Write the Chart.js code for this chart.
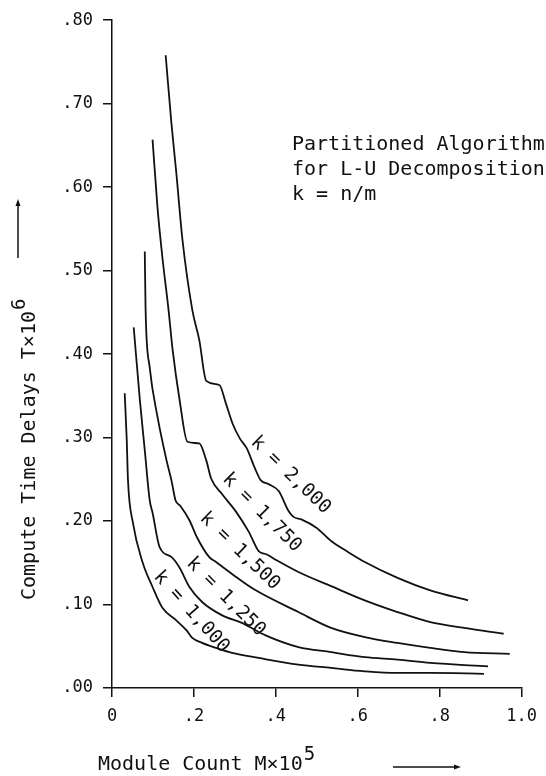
<!DOCTYPE html>
<html>
<head>
<meta charset="utf-8">
<script src="https://cdn.jsdelivr.net/npm/chart.js@4/dist/chart.umd.min.js"></script>
<style>
  html, body { margin: 0; padding: 0; background: #fff; }
  canvas { display: block; }
</style>
</head>
<body>
<canvas id="delayChart" width="546" height="776"></canvas>
<script>
// tick labels
const xTickLabels = ["0", ".2", ".4", ".6", ".8", "1.0"];
const yTickLabels = [".00", ".10", ".20", ".30", ".40", ".50", ".60", ".70", ".80"];

// module count M x 10^5 / compute time delay T x 10^6
const k2000X = [0.131, 0.145, 0.157, 0.172, 0.196, 0.213, 0.230, 0.262, 0.278, 0.295, 0.312, 0.329, 0.349, 0.363, 0.383, 0.407, 0.431, 0.443, 0.462, 0.499, 0.535, 0.576, 0.617, 0.697, 0.777, 0.869];
const k2000Y = [0.758, 0.677, 0.617, 0.537, 0.453, 0.417, 0.368, 0.363, 0.341, 0.316, 0.299, 0.287, 0.263, 0.249, 0.244, 0.236, 0.212, 0.205, 0.202, 0.192, 0.176, 0.163, 0.151, 0.132, 0.117, 0.105];

const k1750X = [0.099, 0.111, 0.123, 0.138, 0.148, 0.165, 0.184, 0.213, 0.230, 0.242, 0.269, 0.303, 0.334, 0.358, 0.378, 0.402, 0.455, 0.535, 0.617, 0.697, 0.777, 0.860, 0.956];
const k1750Y = [0.657, 0.576, 0.516, 0.453, 0.405, 0.345, 0.295, 0.293, 0.273, 0.251, 0.232, 0.211, 0.187, 0.164, 0.160, 0.153, 0.139, 0.122, 0.105, 0.091, 0.079, 0.072, 0.065];

const k1500X = [0.080, 0.082, 0.092, 0.111, 0.133, 0.145, 0.155, 0.167, 0.189, 0.208, 0.237, 0.254, 0.303, 0.351, 0.455, 0.535, 0.617, 0.697, 0.777, 0.860, 0.971];
const k1500Y = [0.523, 0.453, 0.384, 0.325, 0.273, 0.249, 0.225, 0.218, 0.201, 0.180, 0.157, 0.151, 0.133, 0.117, 0.091, 0.072, 0.061, 0.054, 0.048, 0.043, 0.041];

const k1250X = [0.053, 0.068, 0.080, 0.092, 0.099, 0.116, 0.145, 0.165, 0.189, 0.220, 0.269, 0.317, 0.375, 0.455, 0.535, 0.617, 0.697, 0.777, 0.918];
const k1250Y = [0.432, 0.345, 0.285, 0.225, 0.210, 0.169, 0.157, 0.144, 0.121, 0.103, 0.087, 0.078, 0.063, 0.049, 0.043, 0.037, 0.034, 0.030, 0.026];

const k1000X = [0.031, 0.036, 0.039, 0.051, 0.075, 0.099, 0.123, 0.157, 0.182, 0.196, 0.220, 0.254, 0.293, 0.358, 0.455, 0.535, 0.617, 0.697, 0.777, 0.908];
const k1000Y = [0.353, 0.297, 0.249, 0.198, 0.150, 0.121, 0.096, 0.081, 0.069, 0.060, 0.054, 0.048, 0.042, 0.036, 0.028, 0.024, 0.020, 0.018, 0.018, 0.017];

// curve labels, placed in data units along each curve
const curveLabels = [
    { text: "k = 2,000", x: 0.436, y: 0.255, angle: 44 },
    { text: "k = 1,750", x: 0.366, y: 0.210, angle: 45 },
    { text: "k = 1,500", x: 0.312, y: 0.164, angle: 44 },
    { text: "k = 1,250", x: 0.278, y: 0.109, angle: 45 },
    { text: "k = 1,000", x: 0.194, y: 0.091, angle: 48 }
];

const noteLines = ["Partitioned Algorithm", "for L-U Decomposition", "k = n/m"];

const FONT = "'DejaVu Sans Mono', monospace";
const INK = "#111";

function toPoints(xs, ys) {
    return xs.map((x, i) => ({ x: x, y: ys[i] }));
}

function curve(xs, ys) {
    return {
        data: toPoints(xs, ys),
        borderColor: INK,
        borderWidth: 1.8,
        pointRadius: 0,
        fill: false,
        cubicInterpolationMode: "monotone"
    };
}

// draws titles, arrows, note and curve labels
const textPlugin = {
    id: "textPlugin",
    afterDraw(chart) {
        const ctx = chart.ctx;
        const xs = chart.scales.x;
        const ys = chart.scales.y;
        ctx.save();
        ctx.fillStyle = INK;
        ctx.strokeStyle = INK;
        ctx.textBaseline = "alphabetic";

        // y title (rotated)
        ctx.save();
        ctx.translate(35, 600);
        ctx.rotate(-Math.PI / 2);
        ctx.font = "20px " + FONT;
        ctx.textAlign = "left";
        const yTitle = "Compute Time Delays T×10";
        ctx.fillText(yTitle, 0, 0);
        const w1 = ctx.measureText(yTitle).width;
        ctx.font = "19px " + FONT;
        ctx.fillText("6", w1 + 1, -10);
        ctx.restore();

        // x title
        ctx.font = "20px " + FONT;
        ctx.textAlign = "left";
        const xTitle = "Module Count M×10";
        ctx.fillText(xTitle, 98, 770);
        const w2 = ctx.measureText(xTitle).width;
        ctx.font = "19px " + FONT;
        ctx.fillText("5", 98 + w2 + 1, 760);

        // arrows
        ctx.lineWidth = 1.5;
        ctx.beginPath();
        ctx.moveTo(18, 258);
        ctx.lineTo(18, 203);
        ctx.stroke();
        ctx.beginPath();
        ctx.moveTo(18, 199);
        ctx.lineTo(15.5, 206);
        ctx.lineTo(20.5, 206);
        ctx.closePath();
        ctx.fill();

        ctx.beginPath();
        ctx.moveTo(393, 767);
        ctx.lineTo(456, 767);
        ctx.stroke();
        ctx.beginPath();
        ctx.moveTo(461, 767);
        ctx.lineTo(454, 764.5);
        ctx.lineTo(454, 769.5);
        ctx.closePath();
        ctx.fill();

        // note
        ctx.font = "20px " + FONT;
        noteLines.forEach((line, i) => {
            ctx.fillText(line, 292, 150 + i * 25);
        });

        // curve labels
        ctx.font = "19px " + FONT;
        ctx.textAlign = "center";
        ctx.textBaseline = "middle";
        curveLabels.forEach(l => {
            ctx.save();
            ctx.translate(xs.getPixelForValue(l.x), ys.getPixelForValue(l.y));
            ctx.rotate(l.angle * Math.PI / 180);
            ctx.fillText(l.text, 0, 0);
            ctx.restore();
        });
        ctx.restore();
    }
};

const ctx = document.getElementById("delayChart").getContext("2d");
new Chart(ctx, {
    type: "line",
    data: {
        datasets: [
            curve(k2000X, k2000Y),
            curve(k1750X, k1750Y),
            curve(k1500X, k1500Y),
            curve(k1250X, k1250Y),
            curve(k1000X, k1000Y)
        ]
    },
    options: {
        responsive: false,
        animation: false,
        layout: {
            padding: { top: 20, right: 21, left: 0, bottom: 0 }
        },
        plugins: {
            legend: { display: false },
            tooltip: { enabled: false }
        },
        scales: {
            x: {
                type: "linear",
                min: 0,
                max: 1.0,
                afterFit: s => { s.height = 88; },
                ticks: {
                    stepSize: 0.2,
                    padding: 9,
                    color: INK,
                    font: { family: FONT, size: 17 },
                    maxRotation: 0,
                    callback: (v, i) => xTickLabels[i]
                },
                grid: {
                    drawOnChartArea: false,
                    color: INK,
                    lineWidth: 1.5,
                    tickLength: 9
                },
                border: { color: INK, width: 1.5 }
            },
            y: {
                type: "linear",
                min: 0,
                max: 0.8,
                afterFit: s => { s.width = 112; },
                ticks: {
                    stepSize: 0.1,
                    padding: 10,
                    color: INK,
                    font: { family: FONT, size: 17 },
                    callback: (v, i) => yTickLabels[i]
                },
                grid: {
                    drawOnChartArea: false,
                    color: INK,
                    lineWidth: 1.5,
                    tickLength: 9
                },
                border: { color: INK, width: 1.5 }
            }
        }
    },
    plugins: [textPlugin]
});
</script>
</body>
</html>
